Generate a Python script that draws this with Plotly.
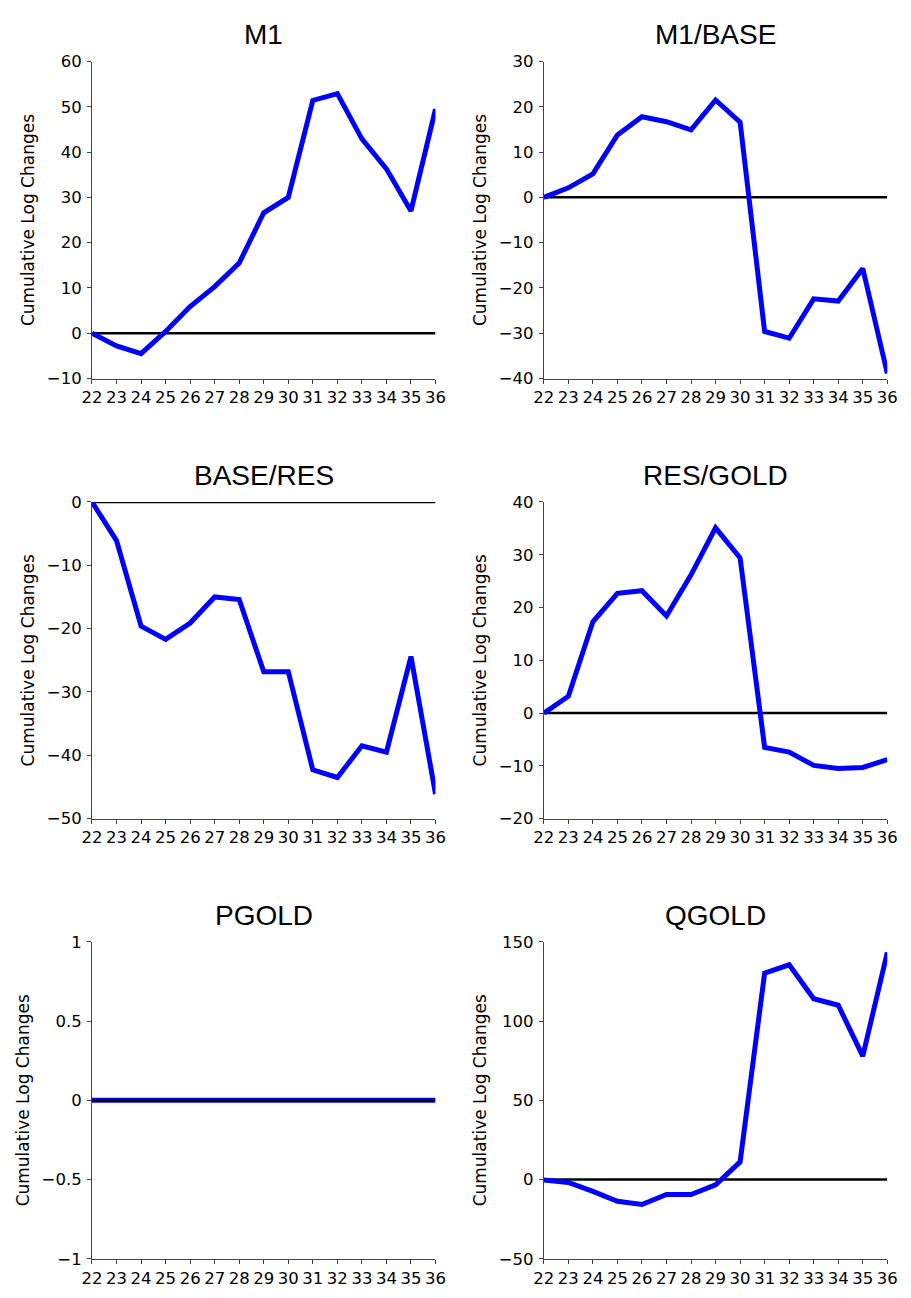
import plotly.graph_objects as go

years = list(range(22, 37))

m1 = [0, -2.8, -4.5, 0.4, 5.9, 10.3, 15.5, 26.6, 30.0, 51.4, 52.9, 42.9, 36.3, 27.0, 49.5]
m1_base = [0, 2.1, 5.2, 13.8, 17.8, 16.7, 14.9, 21.5, 16.6, -29.6, -31.1, -22.4, -22.9, -15.7, -38.9]
base_res = [0, -6.1, -19.6, -21.7, -19.1, -15.0, -15.4, -26.8, -26.8, -42.3, -43.5, -38.5, -39.5, -24.4, -46.1]
res_gold = [0, 3.2, 17.3, 22.7, 23.2, 18.4, 26.2, 35.1, 29.4, -6.5, -7.4, -9.9, -10.5, -10.3, -8.8]
pgold = [0] * 15
qgold = [-0.3, -1.9, -7.5, -13.7, -15.8, -9.4, -9.5, -3.4, 11.1, 130.3, 135.5, 114.1, 110.0, 77.9, 143.4]

titles = ["M1", "M1/BASE", "BASE/RES", "RES/GOLD", "PGOLD", "QGOLD"]
series = [m1, m1_base, base_res, res_gold, pgold, qgold]
yranges = [(-10, 60), (-40, 30), (-50, 0), (-20, 40), (-1, 1), (-50, 150)]
ydticks = [10, 10, 10, 10, 0.5, 50]
xticks = years

W, H = 911, 1298
cols_px = [(83, 435), (546, 898)]
rows_px = [(53.3, 375.0), (500.3, 821.7), (946.7, 1268.3)]
xdom = [(a / W, b / W) for (a, b) in cols_px]
ydom = [(1 - b / H, 1 - t / H) for (t, b) in rows_px]

TITLE_FONT = "Liberation Sans, Arial, Helvetica, sans-serif"
TICK_FONT = "DejaVu Sans, Liberation Sans, Arial, sans-serif"
AX = "#444444"
fig = go.Figure()
layout = dict(
    width=W, height=H, margin=dict(l=0, r=0, t=0, b=0),
    paper_bgcolor="white", plot_bgcolor="white", showlegend=False,
    font=dict(family=TICK_FONT, color="black"),
)
shapes = []
annotations = []
for i, (title, ys) in enumerate(zip(titles, series)):
    r, c = divmod(i, 2)
    n = i + 1
    xa = "xaxis" if n == 1 else f"xaxis{n}"
    ya = "yaxis" if n == 1 else f"yaxis{n}"
    xr = "x" if n == 1 else f"x{n}"
    yr = "y" if n == 1 else f"y{n}"
    fig.add_trace(go.Scatter(x=years, y=ys, mode="lines", xaxis=xr, yaxis=yr,
                             line=dict(color="#0000FF", width=5), hoverinfo="skip"))
    layout[xa] = dict(domain=list(xdom[c]), anchor=yr, range=[22, 36], tickvals=xticks,
                      tickangle=0, ticks="outside", ticklen=4, tickcolor=AX,
                      showline=True, linecolor=AX, linewidth=1, showgrid=False,
                      zeroline=False, tickfont=dict(size=16.5, family=TICK_FONT, color="black"))
    layout[ya] = dict(domain=list(ydom[r]), anchor=xr, range=list(yranges[i]),
                      dtick=ydticks[i], tick0=0, ticks="outside", ticklen=4,
                      tickcolor=AX, showline=True, linecolor=AX, linewidth=1,
                      showgrid=False, zeroline=False, ticklabelstandoff=2,
                      tickfont=dict(size=16.5, family=TICK_FONT, color="black"),
                      title=dict(text="Cumulative Log Changes", standoff=7,
                                 font=dict(size=17, family=TICK_FONT, color="black")))
    shapes.append(dict(type="line", xref=xr, yref=yr, x0=22, x1=36, y0=0, y1=0,
                       line=dict(color="black", width=2.5),
                       layer="above" if title == "PGOLD" else "below"))
    top_px = rows_px[r][0]
    annotations.append(dict(text=title, xref="paper", yref="paper",
                            x=(xdom[c][0] + xdom[c][1]) / 2, y=1 - (top_px - 27) / H,
                            xanchor="center", yanchor="middle", showarrow=False,
                            font=dict(size=28, family=TITLE_FONT, color="black")))
layout["shapes"] = shapes
layout["annotations"] = annotations
fig.update_layout(**layout)
fig.write_html("out.html")
